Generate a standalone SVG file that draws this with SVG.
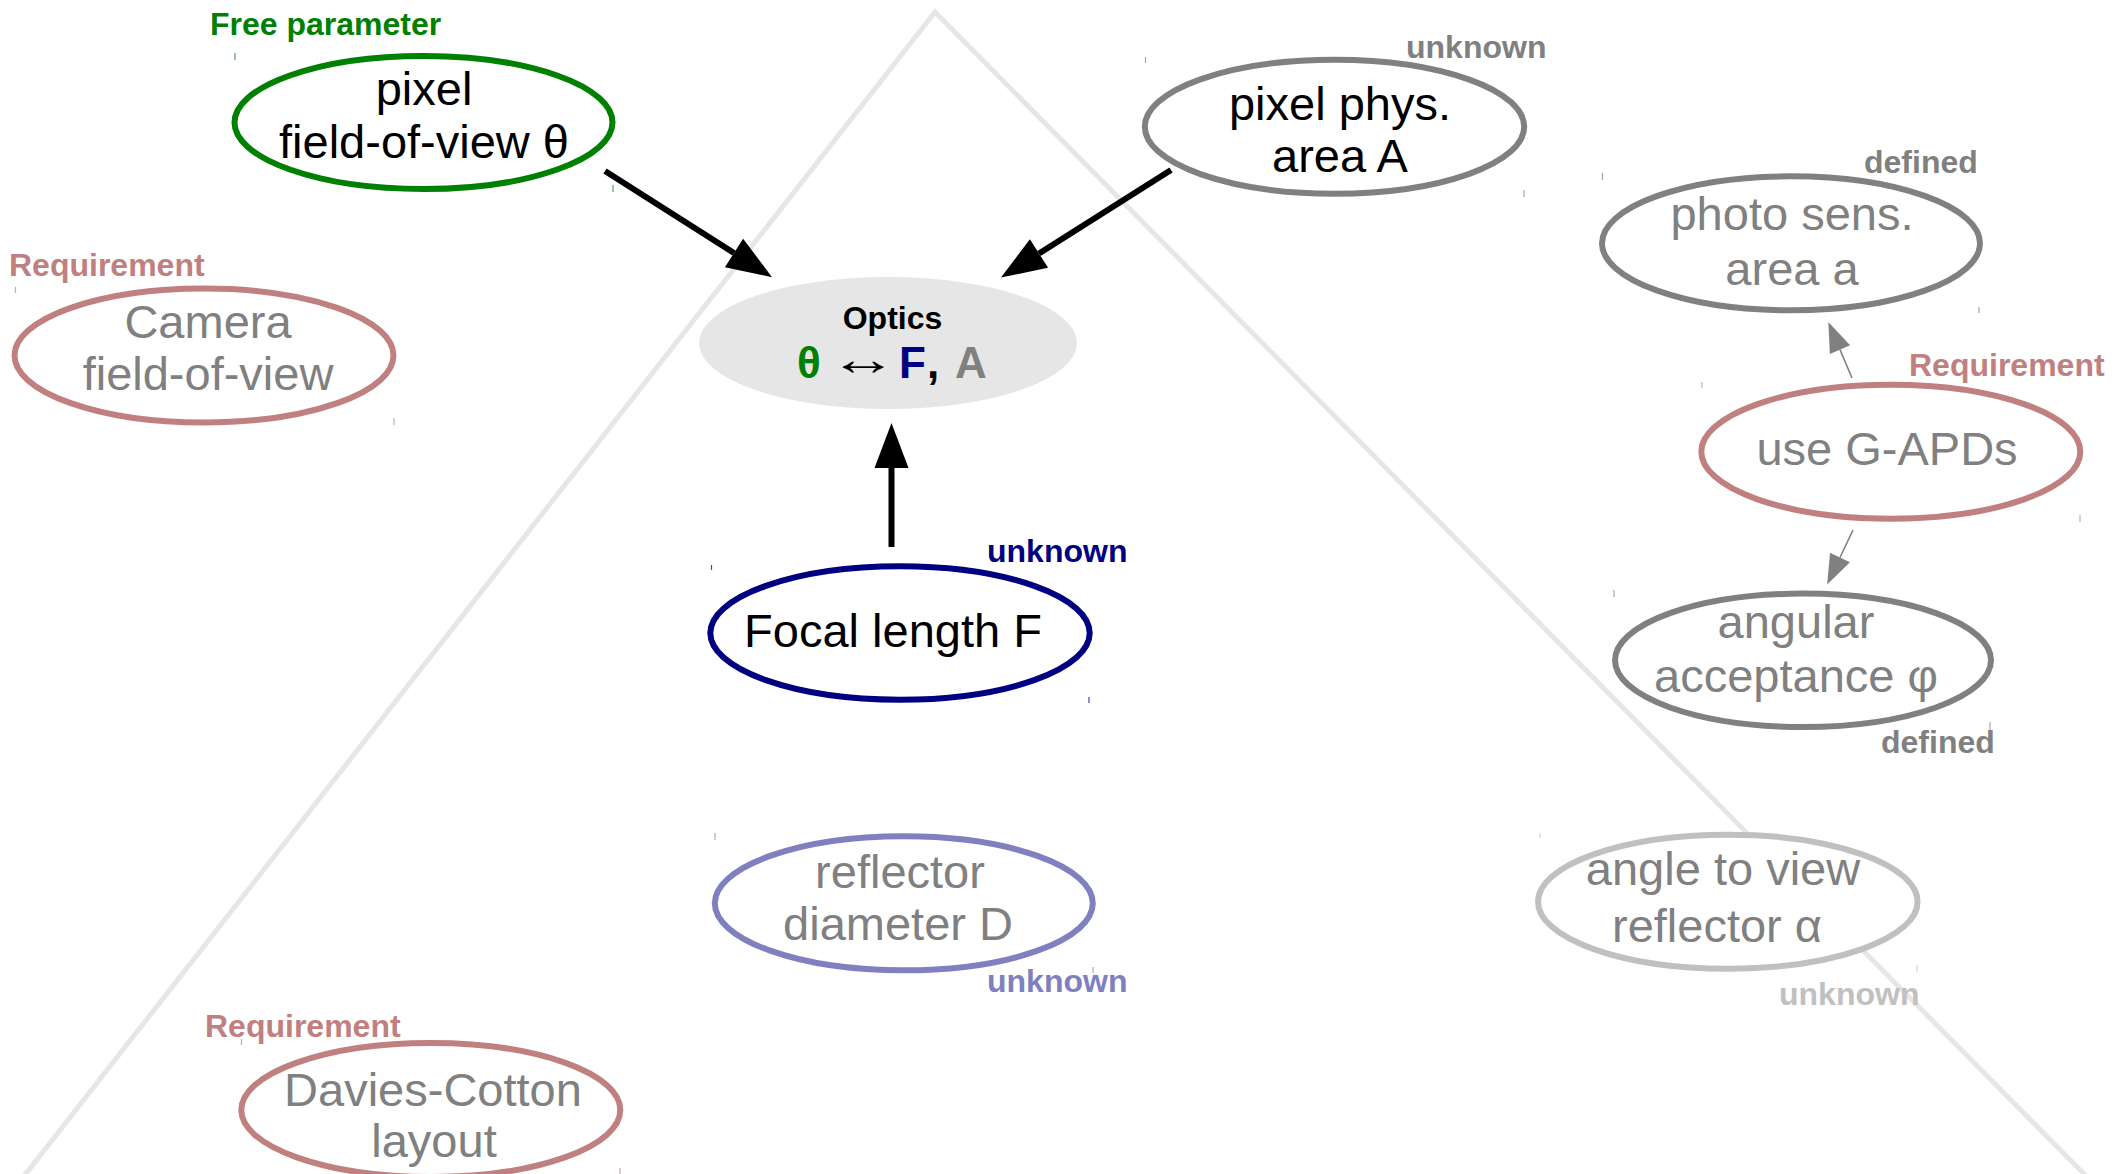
<svg xmlns="http://www.w3.org/2000/svg" width="2114" height="1174" viewBox="0 0 2114 1174">
  <style>
    text { font-family: "Liberation Sans", Arial, sans-serif; }
    .node { fill: #ffffff; stroke-width: 6; }
    .name { font-size: 47px; text-anchor: middle; }
    .tag { font-size: 32px; font-weight: bold; }
    .tick { stroke-width: 1.2; opacity: 0.7; }
    .green { stroke: #008000; }
    .navy { stroke: #000080; }
    .grey { stroke: #808080; }
    .rose { stroke: #c08080; }
    .lnavy { stroke: #8080c0; }
    .lgrey { stroke: #c0c0c0; }
    .link { stroke: #000000; stroke-width: 6; fill: none; }
    .link-thin { stroke: #808080; stroke-width: 1.6; fill: none; }
    .formula { font-size: 44px; font-weight: bold; }
  </style>
  <defs>
    <marker id="head" markerUnits="userSpaceOnUse" markerWidth="46" markerHeight="36" refX="0" refY="17" orient="auto" viewBox="0 0 46 34" overflow="visible">
      <path d="M0,0 L45,17 L0,34 Z" fill="#000000"/>
    </marker>
    <marker id="head-thin" markerUnits="userSpaceOnUse" markerWidth="32" markerHeight="24" refX="0" refY="11" orient="auto" viewBox="0 0 32 22" overflow="visible">
      <path d="M0,0 L30,11 L0,22 Z" fill="#808080"/>
    </marker>
  </defs>

  <rect width="2114" height="1174" fill="#ffffff"/>

  <!-- background pyramid -->
  <polyline points="21,1180 935,12 2090,1180" fill="none" stroke="#e6e6e6" stroke-width="5"/>

  <!-- connectors -->
  <g id="connectors">
    <line class="link" x1="605" y1="171" x2="734" y2="253" marker-end="url(#head)"/>
    <line class="link" x1="1171" y1="170" x2="1039" y2="253.5" marker-end="url(#head)"/>
    <line class="link" x1="891.5" y1="547" x2="891.5" y2="468" marker-end="url(#head)"/>
    <line class="link-thin" x1="1852" y1="378" x2="1840" y2="349.6" marker-end="url(#head-thin)"/>
    <line class="link-thin" x1="1853" y1="530" x2="1840" y2="557.5" marker-end="url(#head-thin)"/>
  </g>

  <!-- pixel field-of-view -->
  <g id="pixel-fov">
    <ellipse class="node green" cx="423.5" cy="122.5" rx="189" ry="66.5"/>
    <text class="name" x="424" y="105">pixel</text>
    <text class="name" x="424" y="158">field-of-view θ</text>
    <text class="tag" x="210" y="35" fill="#008000">Free parameter</text>
    <line class="tick green" x1="235" y1="53" x2="235" y2="60"/>
    <line class="tick green" x1="613" y1="185" x2="613" y2="192"/>
  </g>

  <!-- pixel physical area -->
  <g id="pixel-area">
    <ellipse class="node grey" cx="1334.5" cy="126.7" rx="189.7" ry="67"/>
    <text class="name" x="1340" y="120">pixel phys.</text>
    <text class="name" x="1340" y="172">area A</text>
    <text class="tag" x="1406" y="58" fill="#808080">unknown</text>
    <line class="tick grey" x1="1145.5" y1="57" x2="1145.5" y2="63"/>
    <line class="tick grey" x1="1524" y1="190" x2="1524" y2="197"/>
  </g>

  <!-- camera field-of-view -->
  <g id="camera-fov">
    <ellipse class="node rose" cx="204" cy="355.5" rx="189.5" ry="67"/>
    <text class="name" x="208" y="338" fill="#808080">Camera</text>
    <text class="name" x="208" y="390" fill="#808080">field-of-view</text>
    <text class="tag" x="9" y="276" fill="#c08080">Requirement</text>
    <line class="tick rose" x1="15.5" y1="287" x2="15.5" y2="293"/>
    <line class="tick rose" x1="394" y1="418" x2="394" y2="425"/>
  </g>

  <!-- optics -->
  <g id="optics">
    <ellipse cx="888" cy="343" rx="189" ry="66" fill="#e6e6e6"/>
    <text x="892.5" y="329" font-size="32" font-weight="bold" text-anchor="middle">Optics</text>
    <text class="formula" x="797" y="378" fill="#008000" font-family="'DejaVu Sans', sans-serif">θ</text>
    <text x="0" y="0" font-size="46" font-family="'DejaVu Sans', sans-serif" transform="translate(829 375) scale(1.5 1)">↔</text>
    <text class="formula" x="899" y="378" fill="#000080">F</text>
    <text class="formula" x="927" y="378">,</text>
    <text class="formula" x="955" y="378" fill="#808080">A</text>
  </g>

  <!-- focal length -->
  <g id="focal-length">
    <ellipse class="node navy" cx="900" cy="633" rx="189.7" ry="66.7"/>
    <text class="name" x="893" y="647">Focal length F</text>
    <text class="tag" x="987" y="562" fill="#000080">unknown</text>
    <line class="tick navy" x1="711.5" y1="565" x2="711.5" y2="570"/>
    <line class="tick navy" x1="1089" y1="697" x2="1089" y2="703"/>
  </g>

  <!-- photo sensitive area -->
  <g id="photo-area">
    <ellipse class="node grey" cx="1791" cy="243.3" rx="189" ry="67"/>
    <text class="name" x="1792" y="230" fill="#808080">photo sens.</text>
    <text class="name" x="1792" y="285" fill="#808080">area a</text>
    <text class="tag" x="1864" y="173" fill="#808080">defined</text>
    <line class="tick grey" x1="1602.5" y1="173" x2="1602.5" y2="180"/>
    <line class="tick grey" x1="1979" y1="307" x2="1979" y2="313"/>
  </g>

  <!-- G-APD sensors -->
  <g id="use-gapd">
    <ellipse class="node rose" cx="1890.8" cy="451.7" rx="189.5" ry="67"/>
    <text class="name" x="1887" y="465" fill="#808080">use G-APDs</text>
    <text class="tag" x="1909" y="376" fill="#c08080">Requirement</text>
    <line class="tick rose" x1="1702" y1="382" x2="1702" y2="388"/>
    <line class="tick rose" x1="2080" y1="515" x2="2080" y2="522"/>
  </g>

  <!-- angular acceptance -->
  <g id="angular-acceptance">
    <ellipse class="node grey" cx="1803" cy="660.3" rx="188" ry="66.7"/>
    <text class="name" x="1796" y="638" fill="#808080">angular</text>
    <text class="name" x="1796" y="692" fill="#808080">acceptance φ</text>
    <text class="tag" x="1881" y="753" fill="#808080">defined</text>
    <line class="tick grey" x1="1614" y1="590" x2="1614" y2="597"/>
    <line class="tick grey" x1="1990" y1="722" x2="1990" y2="730"/>
  </g>

  <!-- reflector diameter -->
  <g id="reflector-diameter">
    <ellipse class="node lnavy" cx="903.8" cy="903.3" rx="189" ry="67"/>
    <text class="name" x="900" y="888" fill="#808080">reflector</text>
    <text class="name" x="898" y="940" fill="#808080">diameter D</text>
    <text class="tag" x="987" y="992" fill="#8080c0">unknown</text>
    <line class="tick lnavy" x1="715" y1="833" x2="715" y2="840"/>
    <line class="tick lnavy" x1="1093" y1="967" x2="1093" y2="973"/>
  </g>

  <!-- viewing angle -->
  <g id="view-angle">
    <ellipse class="node lgrey" cx="1727.8" cy="901.7" rx="189.8" ry="67"/>
    <text class="name" x="1723" y="885" fill="#808080">angle to view</text>
    <text class="name" x="1717" y="942" fill="#808080">reflector α</text>
    <text class="tag" x="1779" y="1005" fill="#c0c0c0">unknown</text>
    <line class="tick lgrey" x1="1540" y1="833" x2="1540" y2="838"/>
    <line class="tick lgrey" x1="1917" y1="965" x2="1917" y2="972"/>
  </g>

  <!-- Davies-Cotton layout -->
  <g id="davies-cotton">
    <ellipse class="node rose" cx="430.8" cy="1110" rx="189.5" ry="67"/>
    <text class="name" x="433" y="1106" fill="#808080">Davies-Cotton</text>
    <text class="name" x="434" y="1157" fill="#808080">layout</text>
    <text class="tag" x="205" y="1037" fill="#c08080">Requirement</text>
    <line class="tick rose" x1="241.5" y1="1039" x2="241.5" y2="1045"/>
    <line class="tick rose" x1="620" y1="1168" x2="620" y2="1174"/>
  </g>
</svg>
